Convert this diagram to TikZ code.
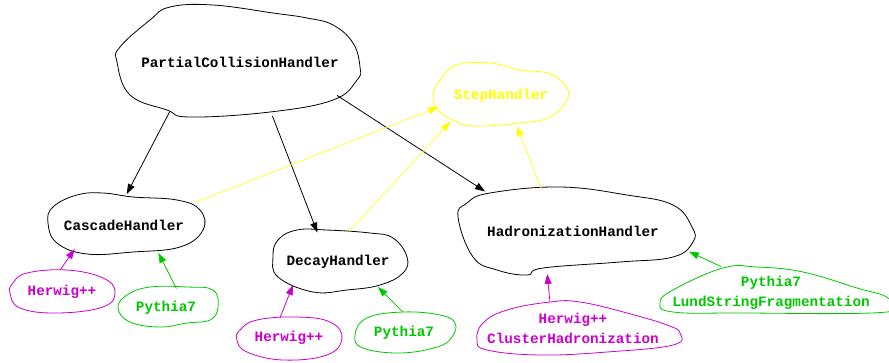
\documentclass[tikz,border=0pt]{standalone}
\usepackage{fontspec}
\usetikzlibrary{shapes.geometric,arrows.meta}
\newfontfamily\courfont{Liberation Mono}
\definecolor{hwmag}{RGB}{204,0,204}
\definecolor{pygreen}{RGB}{0,200,0}
\definecolor{stepyel}{RGB}{255,255,0}
\tikzset{
  hub/.style 2 args={ellipse, draw=none, inner sep=0pt, outer sep=0pt,
    minimum width=#1, minimum height=#2,
    font=\courfont\bfseries\fontsize{14.3}{20}\selectfont},
  blobline/.style={line width=0.8pt},
  conn/.style={line width=0.8pt, -{Triangle[length=10pt,width=7pt]}},
  yconn/.style={line width=0.6pt, stepyel, -{Triangle[length=10pt,width=7pt]}},
}
\begin{document}
\begin{tikzpicture}[x=1pt,y=-1pt]
\useasboundingbox (0,0) rectangle (889,362);

% nodes
\node[hub={242pt}{112pt}] (pch) at (240,62) {\makebox[0pt]{PartialCollisionHandler}};
\node[hub={134pt}{62pt}, text=stepyel] (step) at (501,96) {\makebox[0pt]{StepHandler}};
\node[hub={156pt}{62pt}] (casc) at (124,225) {\makebox[0pt]{CascadeHandler}};
\node[hub={134pt}{62pt}] (decay) at (338,262) {\makebox[0pt]{DecayHandler}};
\node[hub={236pt}{88pt}] (hadr) at (573,231) {\makebox[0pt]{HadronizationHandler}};
\node[hub={106pt}{44pt}, text=hwmag] (hwa) at (62,292) {\makebox[0pt]{Herwig++}};
\node[hub={100pt}{40pt}, text=pygreen] (pya) at (166,308) {\makebox[0pt]{Pythia7}};
\node[hub={106pt}{42pt}, text=hwmag] (hwb) at (289,338) {\makebox[0pt]{Herwig++}};
\node[hub={100pt}{42pt}, text=pygreen] (pyb) at (404,333) {\makebox[0pt]{Pythia7}};
\node[hub={204pt}{54pt}, text=hwmag] (hwc) at (573,329) {\makebox[0pt]{\begin{tabular}{@{}c@{}}Herwig++\\ClusterHadronization\end{tabular}}};
\node[hub={228pt}{46pt}, text=pygreen] (pyc) at (771,292) {\makebox[0pt]{\begin{tabular}{@{}c@{}}Pythia7\\LundStringFragmentation\end{tabular}}};

% blobs
\draw[blobline] plot[smooth cycle, tension=0.7] coordinates {(117,62) (130,95) (167,110) (190,117) (270,112) (333,100) (357,80) (360,67) (353,43) (333,25) (307,18) (273,13) (213,5) (170,7) (150,20) (120,47)};
\draw[blobline, stepyel] plot[smooth cycle, tension=0.7] coordinates {(433,95) (438,110) (453,120) (473,126) (520,123) (550,117) (568,98) (563,83) (547,73) (520,70) (490,63) (457,65) (440,80)};
\draw[blobline] plot[smooth cycle, tension=0.7] coordinates {(48,223) (57,243) (87,254) (133,252) (180,247) (203,230) (200,210) (177,200) (133,197) (103,193) (77,195) (53,207)};
\draw[blobline, hwmag] plot[smooth cycle, tension=0.7] coordinates {(10,293) (20,308) (57,313) (103,307) (115,292) (103,278) (67,270) (27,273) (13,283)};
\draw[blobline, pygreen] plot[smooth cycle, tension=0.7] coordinates {(118,308) (130,322) (160,327) (187,323) (210,320) (218,307) (213,290) (187,287) (150,287) (127,295)};
\draw[blobline] plot[smooth cycle, tension=0.7] coordinates {(273,257) (278,277) (313,292) (347,290) (380,285) (403,273) (407,257) (393,238) (370,233) (327,230) (297,230) (278,240)};
\draw[blobline, hwmag] plot[smooth cycle, tension=0.7] coordinates {(237,340) (247,352) (283,360) (327,355) (342,338) (330,322) (297,317) (257,320) (240,330)};
\draw[blobline, pygreen] plot[smooth cycle, tension=0.7] coordinates {(355,335) (363,348) (400,353) (437,347) (452,337) (455,323) (440,315) (403,312) (367,318)};
\draw[blobline] plot[smooth cycle, tension=0.7] coordinates {(458,217) (473,257) (497,270) (527,275) (543,268) (620,262) (673,257) (693,242) (692,227) (673,205) (627,195) (560,187) (490,193) (467,203)};
\draw[blobline, hwmag] plot[smooth cycle, tension=0.7] coordinates {(477,340) (487,350) (540,355) (607,352) (673,345) (680,333) (667,325) (627,313) (580,302) (550,302) (507,310) (483,323)};
\draw[blobline, pygreen] plot[smooth cycle, tension=0.7] coordinates {(660,303) (673,312) (740,313) (887,312) (888,298) (857,288) (803,272) (757,267) (723,268) (673,290)};

% connectors
\draw[conn, shorten <=4pt] (pch.214) -- (casc.85);
\draw[conn] (pch.-59) -- (decay.125);
\draw[conn, shorten >=12pt] (pch.-19) -- (hadr.157);
\draw[yconn, shorten <=11pt] (casc.17) -- (step.190);
\draw[yconn, shorten >=5pt] (decay.70) -- (step.205);
\draw[yconn] (hadr.127) -- (step.-62);
\draw[conn, hwmag] (hwa.95) -- (casc.206);
\draw[conn, pygreen] (pya.62) -- (casc.-39);
\draw[conn, hwmag] (hwb.113) -- (decay.207);
\draw[conn, pygreen] (pyb.93) -- (decay.-32);
\draw[conn, hwmag] (hwc.130) -- (hadr.239);
\draw[conn, pygreen, shorten >=8pt] (pyc.153) -- (hadr.-9);
\end{tikzpicture}
\end{document}
